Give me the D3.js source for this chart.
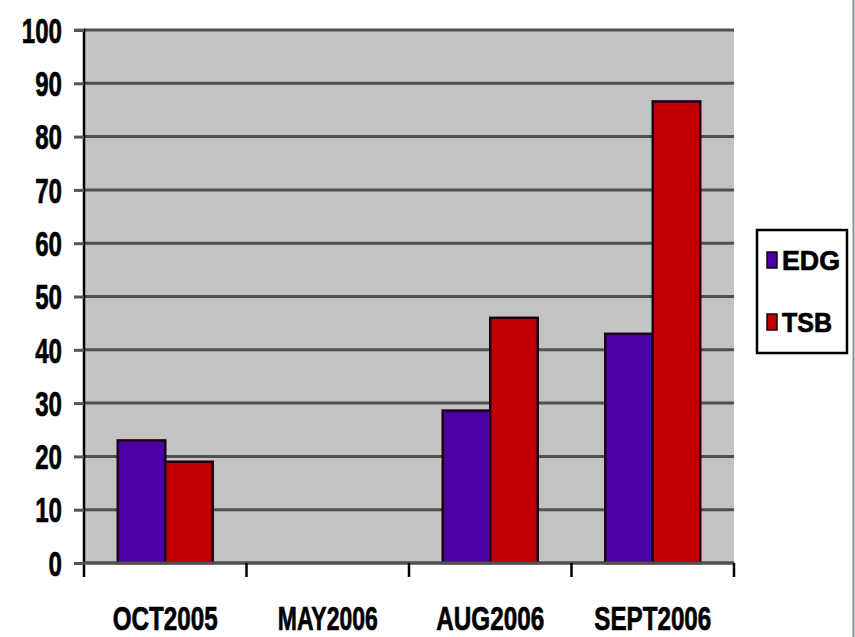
<!DOCTYPE html>
<html>
<head>
<meta charset="utf-8">
<script src="https://cdn.jsdelivr.net/npm/d3@7"></script>
<style>
  html, body { margin: 0; padding: 0; background: #ffffff; }
  svg { display: block; }
  text { font-family: "Liberation Sans", Arial, sans-serif; font-weight: bold; fill: #000; stroke: #000; stroke-width: 0.7px; }
</style>
</head>
<body>
<svg id="chart" width="855" height="637"></svg>
<script>
// Monthly counts for the two groups
const categories = ["OCT2005", "MAY2006", "AUG2006", "SEPT2006"];
const seriesNames = ["EDG", "TSB"];
const edgValues = [23, null, 28.6, 43];
const tsbValues = [19, null, 46, 86.6];
const yTicks = [0, 10, 20, 30, 40, 50, 60, 70, 80, 90, 100];
const seriesColors = ["#4b00a3", "#c00000"];

const svg = d3.select("#chart");
const W = 855, H = 637;
const plot = { left: 84, right: 734, top: 30, bottom: 563 };

const x = d3.scaleBand().domain(categories).range([plot.left, plot.right]).padding(0);
const xInner = d3.scaleBand().domain(seriesNames)
  .range([x.bandwidth() * 0.2077, x.bandwidth() * 0.7923]).padding(0);
const y = d3.scaleLinear().domain([0, 100]).range([plot.bottom, plot.top]);

// thin frame line along the right edge
svg.append("line")
  .attr("x1", W - 1.5).attr("x2", W - 1.5).attr("y1", 0).attr("y2", H)
  .attr("stroke", "#8a9099").attr("stroke-width", 2);

// plot area
svg.append("rect")
  .attr("x", plot.left).attr("y", plot.top)
  .attr("width", plot.right - plot.left).attr("height", plot.bottom - plot.top)
  .attr("fill", "#c3c3c3");

// horizontal gridlines
svg.append("g").selectAll("line").data(yTicks).join("line")
  .attr("x1", plot.left).attr("x2", plot.right)
  .attr("y1", d => y(d)).attr("y2", d => y(d))
  .attr("stroke", "#505050").attr("stroke-width", 3);

// bars
const rows = categories.map((c, i) => ({ cat: c, vals: [edgValues[i], tsbValues[i]] }));
const groups = svg.append("g").selectAll("g").data(rows).join("g")
  .attr("transform", d => `translate(${x(d.cat)},0)`);
groups.selectAll("rect")
  .data(d => d.vals.map((v, k) => ({ name: seriesNames[k], v, k })).filter(e => e.v != null))
  .join("rect")
  .attr("x", e => xInner(e.name))
  .attr("width", xInner.bandwidth())
  .attr("y", e => y(e.v))
  .attr("height", e => y(0) - y(e.v))
  .attr("fill", e => seriesColors[e.k])
  .attr("stroke", "#1c0018").attr("stroke-width", 2.5);

// y axis
const yAxis = d3.axisLeft(y).tickValues(yTicks).tickSize(10).tickPadding(12);
const yg = svg.append("g").attr("transform", `translate(${plot.left},0)`).call(yAxis);
yg.select(".domain").attr("d", `M-10,${plot.top}H0V${plot.bottom + 14}`)
  .attr("stroke", "#000").attr("stroke-width", 2.5).attr("fill", "none");
yg.selectAll(".tick line").attr("stroke", "#555").attr("stroke-width", 3);
yg.selectAll(".tick text")
  .attr("font-size", 35).attr("dy", "0.35em")
  .attr("x", -22)
  .attr("textLength", d => String(d).length * 13.4)
  .attr("lengthAdjust", "spacingAndGlyphs");

// x axis: tick marks at band boundaries, labels at band centres
const xg = svg.append("g");
xg.append("line")
  .attr("x1", plot.left).attr("x2", plot.right)
  .attr("y1", plot.bottom).attr("y2", plot.bottom)
  .attr("stroke", "#505050").attr("stroke-width", 3);
const bounds = categories.map(c => x(c) + x.bandwidth());
xg.selectAll("line.tick").data(bounds).join("line")
  .attr("class", "tick")
  .attr("x1", d => d).attr("x2", d => d)
  .attr("y1", plot.bottom).attr("y2", plot.bottom + 14)
  .attr("stroke", "#000").attr("stroke-width", 2.5);
const labelWidths = { "OCT2005": 105, "MAY2006": 100, "AUG2006": 108, "SEPT2006": 117 };
xg.selectAll("text").data(categories).join("text")
  .attr("x", d => x(d) + x.bandwidth() / 2)
  .attr("y", 630)
  .attr("text-anchor", "middle")
  .attr("font-size", 34)
  .attr("textLength", d => labelWidths[d])
  .attr("lengthAdjust", "spacingAndGlyphs")
  .text(d => d);

// legend
const lg = svg.append("g");
lg.append("rect")
  .attr("x", 757).attr("y", 230).attr("width", 90).attr("height", 123)
  .attr("fill", "#ffffff").attr("stroke", "#000").attr("stroke-width", 2.5);
const items = lg.selectAll("g.item").data(seriesNames).join("g")
  .attr("class", "item")
  .attr("transform", (d, i) => `translate(0,${260 + i * 62})`);
items.append("rect")
  .attr("x", 767).attr("y", -8).attr("width", 10).attr("height", 16)
  .attr("fill", (d, i) => seriesColors[i]).attr("stroke", "#1c0018").attr("stroke-width", 1.5);
items.append("text")
  .attr("x", 782).attr("y", 10)
  .attr("font-size", 27)
  .attr("textLength", d => d === "EDG" ? 58 : 50)
  .attr("lengthAdjust", "spacingAndGlyphs")
  .text(d => d);
</script>
</body>
</html>
